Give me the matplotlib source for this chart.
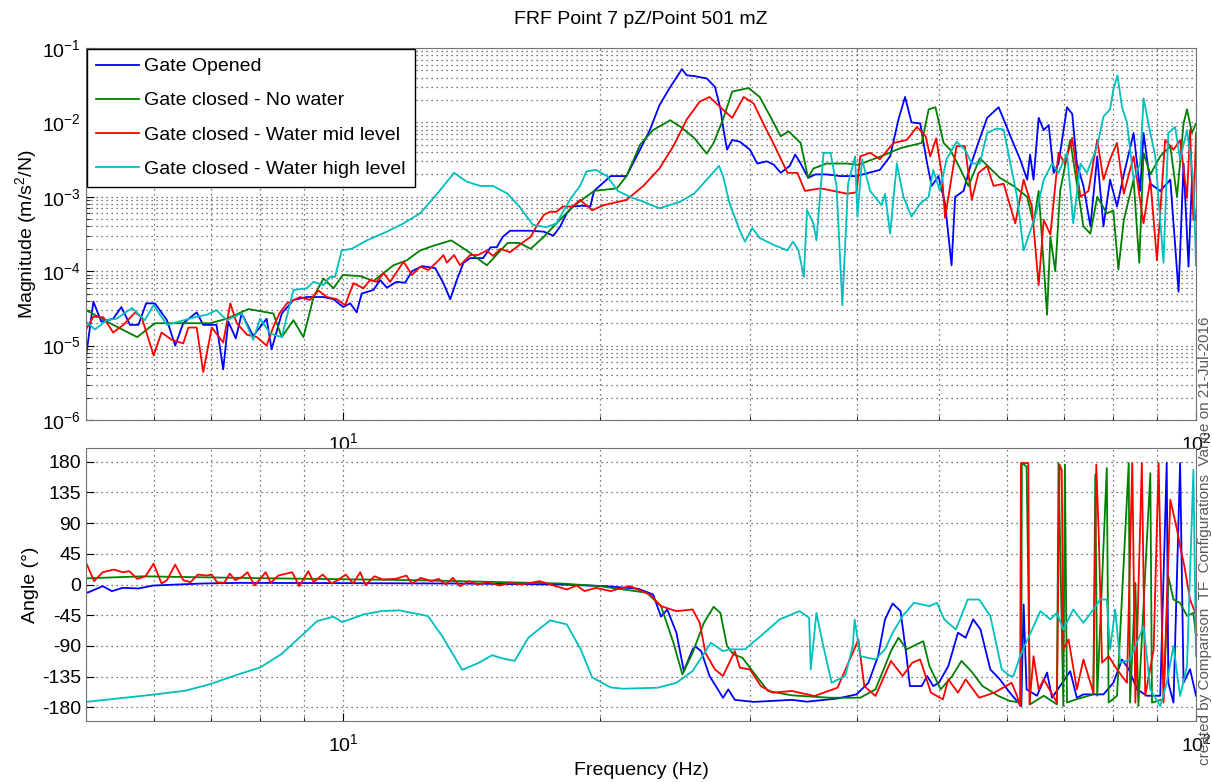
import matplotlib
matplotlib.use("Agg")
from matplotlib import pyplot as plt
import numpy as np

plt.rcParams['font.family'] = ['Liberation Sans', 'DejaVu Sans']
plt.rcParams['mathtext.default'] = 'regular'
plt.rcParams['axes.unicode_minus'] = False

# (frequency Hz, magnitude m/s^2/N)
blue_mag = [(5.00, 7.1e-6), (5.10, 3.9e-5), (5.21, 2.1e-5), (5.38, 2.3e-5), (5.50, 3.3e-5), (5.63, 1.9e-5),
            (5.76, 1.9e-5), (5.88, 3.7e-5), (6.02, 3.7e-5), (6.22, 2.2e-5), (6.36, 1.0e-5), (6.50, 2.0e-5),
            (6.74, 2.8e-5), (6.86, 1.9e-5), (7.11, 1.9e-5), (7.24, 4.8e-6), (7.34, 2.1e-5), (7.49, 1.25e-5),
            (7.61, 2.7e-5), (7.85, 1.35e-5), (8.14, 2.3e-5), (8.25, 8.9e-6), (8.48, 2.7e-5), (8.75, 4.1e-5),
            (9.07, 4.5e-5), (9.49, 4.5e-5), (9.75, 4.2e-5), (10.01, 3.3e-5), (10.2, 3.7e-5), (10.38, 2.8e-5),
            (10.52, 5.0e-5), (10.86, 5.6e-5), (11.06, 7.6e-5), (11.26, 6.0e-5), (11.56, 7.2e-5), (11.83, 7.0e-5),
            (12.05, 1.0e-4), (12.38, 1.17e-4), (12.83, 1.1e-4), (13.12, 6.9e-5), (13.36, 4.2e-5), (13.6, 7.6e-5),
            (13.85, 1.3e-4), (14.1, 1.5e-4), (14.6, 1.5e-4), (14.9, 2.1e-4), (15.15, 2.1e-4), (15.4, 2.9e-4),
            (15.7, 3.5e-4), (16.1, 3.5e-4), (16.6, 3.5e-4), (17.2, 3.4e-4), (17.65, 3.0e-4), (17.98, 4.0e-4),
            (18.3, 6.0e-4), (18.6, 7.4e-4), (19.1, 7.6e-4), (19.5, 7.4e-4), (19.7, 1.2e-3), (20.6, 1.9e-3),
            (21.5, 1.9e-3), (22.3, 4.3e-3), (22.9, 7.9e-3), (23.5, 1.7e-2), (24.2, 3.0e-2), (24.97, 5.2e-2),
            (25.3, 4.3e-2), (25.8, 4.2e-2), (26.7, 3.9e-2), (27.3, 3.0e-2), (27.7, 1.55e-2), (27.9, 8.8e-3),
            (28.2, 4.3e-3), (28.6, 5.8e-3), (29.2, 5.5e-3), (30.0, 4.3e-3), (30.6, 2.8e-3), (31.4, 3.0e-3),
            (32.0, 2.7e-3), (32.6, 2.1e-3), (33.4, 2.6e-3), (33.9, 3.7e-3), (34.4, 2.8e-3), (35.1, 1.8e-3),
            (35.8, 2.0e-3), (36.9, 2.0e-3), (38.3, 1.9e-3), (40.0, 1.9e-3), (42.6, 2.3e-3), (43.8, 3.5e-3),
            (44.8, 1.1e-2), (45.6, 2.2e-2), (46.4, 1.0e-2), (47.5, 9.7e-3), (48.4, 2.8e-3), (49.0, 1.4e-3),
            (49.9, 1.9e-3), (50.8, 8.1e-4), (51.7, 1.2e-4), (52.2, 1.0e-3), (53.4, 1.2e-3), (54.4, 2.6e-3),
            (55.4, 4.8e-3), (56.9, 1.15e-2), (58.7, 1.6e-2), (59.5, 1.1e-2), (60.6, 6.5e-3), (62.2, 3.2e-3),
            (63.4, 1.7e-3), (63.9, 3.7e-3), (64.5, 1.7e-3), (65.4, 1.15e-2), (66.3, 7.9e-3), (67.2, 9.2e-3),
            (68.1, 2.1e-3), (69.0, 2.8e-3), (70.6, 1.6e-2), (71.6, 1.3e-2), (72.5, 2.8e-3), (73.8, 1.4e-3),
            (75.2, 4.0e-4), (76.6, 3.5e-3), (77.9, 4.0e-4), (79.3, 1.7e-3), (80.8, 7.4e-4), (82.3, 2.0e-3),
            (84.5, 7.2e-3), (86.0, 1.2e-3), (86.8, 7.2e-3), (88.4, 1.5e-3), (90.8, 1.2e-3), (93.3, 1.7e-3),
            (95.4, 5.3e-5), (96.7, 2.8e-3), (98.0, 1.15e-4), (98.9, 1.7e-3), (99.8, 4.9e-4)]

green_mag = [(5.00, 3.0e-5), (5.38, 1.9e-5), (5.74, 1.3e-5), (6.02, 2.0e-5), (6.27, 2.0e-5), (6.99, 2.0e-5),
             (7.31, 2.3e-5), (7.75, 3.1e-5), (8.29, 2.7e-5), (8.48, 1.3e-5), (8.75, 2.2e-5), (8.99, 1.3e-5),
             (9.24, 4.5e-5), (9.49, 8.0e-5), (9.75, 5.9e-5), (10.0, 8.9e-5), (10.48, 8.6e-5), (10.86, 7.4e-5),
             (11.46, 1.2e-4), (11.88, 1.4e-4), (12.32, 1.9e-4), (12.77, 2.2e-4), (13.4, 2.6e-4), (13.97, 1.9e-4),
             (14.75, 1.2e-4), (15.6, 2.4e-4), (16.1, 2.4e-4), (16.6, 2.0e-4), (17.2, 2.9e-4), (17.8, 4.4e-4),
             (18.6, 7.4e-4), (19.7, 1.2e-3), (20.95, 1.3e-3), (21.5, 1.9e-3), (22.3, 5.0e-3), (23.1, 7.9e-3),
             (24.2, 1.07e-2), (24.85, 8.8e-3), (25.8, 6.2e-3), (26.7, 3.8e-3), (27.2, 5.3e-3), (27.9, 1.1e-2),
             (28.6, 2.6e-2), (29.9, 2.9e-2), (30.8, 2.2e-2), (31.7, 1.2e-2), (32.6, 6.5e-3), (33.3, 7.6e-3),
             (34.4, 5.3e-3), (35.1, 1.8e-3), (35.6, 2.4e-3), (36.9, 2.8e-3), (39.0, 2.8e-3), (40.2, 2.7e-3),
             (43.0, 3.6e-3), (45.0, 4.5e-3), (47.7, 5.3e-3), (48.6, 1.5e-2), (49.5, 1.6e-2), (50.6, 5.3e-3),
             (51.5, 4.3e-3), (52.9, 2.4e-3), (54.1, 1.4e-3), (55.8, 3.3e-3), (57.4, 2.4e-3), (58.9, 1.8e-3),
             (61.1, 1.4e-3), (63.4, 1.0e-3), (64.5, 4.4e-4), (65.4, 1.2e-3), (66.9, 2.6e-5), (67.5, 2.9e-4),
             (68.4, 1.0e-4), (69.3, 1.2e-3), (71.2, 5.8e-3), (72.5, 1.5e-3), (73.8, 4.0e-4), (75.2, 3.2e-4),
             (76.6, 1.0e-3), (78.6, 6.0e-4), (80.0, 6.5e-4), (81.1, 1.05e-4), (82.3, 4.9e-4), (84.5, 1.7e-3),
             (85.8, 1.3e-4), (86.8, 3.9e-3), (88.4, 2.0e-3), (90.8, 3.5e-3), (93.3, 4.8e-3), (95.0, 1.0e-3),
             (96.7, 9.7e-3), (97.6, 1.5e-2), (98.9, 7.2e-3), (100.0, 9.7e-3)]

red_mag = [(5.00, 1.65e-5), (5.10, 2.45e-5), (5.24, 2.4e-5), (5.38, 1.5e-5), (5.53, 1.9e-5), (5.71, 2.8e-5),
           (5.81, 2.4e-5), (6.00, 7.4e-6), (6.13, 1.5e-5), (6.30, 1.2e-5), (6.50, 1.07e-5), (6.59, 1.75e-5),
           (6.74, 1.75e-5), (6.86, 4.4e-6), (7.02, 1.75e-5), (7.24, 1.1e-5), (7.38, 3.7e-5), (7.51, 2.0e-5),
           (7.72, 1.4e-5), (7.93, 1.3e-5), (8.14, 1.0e-5), (8.29, 1.8e-5), (8.44, 2.8e-5), (8.60, 3.7e-5),
           (8.91, 4.5e-5), (9.15, 4.1e-5), (9.36, 5.5e-5), (9.58, 4.5e-5), (9.84, 4.2e-5), (10.06, 3.5e-5),
           (10.29, 6.9e-5), (10.57, 5.9e-5), (10.76, 7.6e-5), (10.96, 7.2e-5), (11.16, 9.5e-5), (11.36, 7.2e-5),
           (11.78, 1.34e-4), (12.05, 8.9e-5), (12.32, 1.15e-4), (12.6, 1.04e-4), (12.9, 1.34e-4), (13.12, 1.65e-4),
           (13.24, 1.3e-4), (13.5, 1.65e-4), (13.72, 1.2e-4), (14.1, 1.65e-4), (14.4, 1.65e-4), (14.75, 1.9e-4),
           (15.0, 1.6e-4), (15.3, 2.0e-4), (15.7, 1.8e-4), (16.1, 2.25e-4), (16.6, 2.9e-4), (16.9, 4.2e-4),
           (17.2, 5.7e-4), (17.5, 6.3e-4), (17.8, 6.3e-4), (18.1, 7.4e-4), (18.6, 7.4e-4), (18.97, 9.1e-4),
           (19.6, 6.6e-4), (20.2, 7.7e-4), (21.5, 9.1e-4), (22.5, 1.4e-3), (23.5, 2.4e-3), (24.4, 4.8e-3),
           (25.3, 1.1e-2), (26.2, 1.9e-2), (26.9, 2.2e-2), (27.7, 1.6e-2), (28.6, 1.15e-2), (29.5, 2.2e-2),
           (30.3, 1.8e-2), (31.1, 9.7e-3), (32.0, 5.1e-3), (33.2, 2.1e-3), (34.1, 2.1e-3), (34.8, 1.2e-3),
           (36.3, 1.3e-3), (37.6, 1.2e-3), (39.0, 1.1e-3), (40.0, 1.15e-3), (40.4, 3.5e-3), (41.5, 3.9e-3),
           (42.6, 3.2e-3), (44.2, 5.3e-3), (45.8, 5.8e-3), (47.1, 8.7e-3), (48.2, 6.5e-3), (48.8, 3.5e-3),
           (49.6, 6.1e-3), (50.4, 1.9e-3), (50.8, 5.2e-4), (51.5, 1.4e-3), (52.4, 4.8e-3), (53.6, 4.8e-3),
           (54.6, 9.1e-4), (55.6, 2.1e-3), (56.9, 2.6e-3), (57.9, 1.4e-3), (59.5, 1.5e-3), (61.4, 4.4e-4),
           (62.8, 1.7e-3), (64.2, 7.4e-4), (65.4, 6.5e-5), (66.3, 4.9e-4), (67.5, 3.1e-4), (69.0, 3.9e-3),
           (70.2, 2.8e-3), (71.6, 6.2e-3), (73.2, 1.0e-3), (74.8, 1.2e-3), (76.6, 5.8e-3), (77.9, 1.7e-3),
           (79.3, 3.2e-3), (80.8, 5.3e-3), (82.3, 1.1e-3), (84.5, 3.5e-3), (86.8, 4.4e-4), (88.4, 1.7e-3),
           (90.0, 1.4e-4), (92.0, 5.8e-3), (94.1, 4.3e-3), (95.8, 5.8e-3), (97.6, 9.6e-4), (98.4, 7.9e-3),
           (99.3, 4.9e-4), (100.0, 7.2e-3)]

cyan_mag = [(5.00, 2.1e-5), (5.12, 1.65e-5), (5.29, 2.2e-5), (5.43, 2.3e-5), (5.66, 3.2e-5), (5.86, 2.2e-5),
            (6.00, 3.5e-5), (6.22, 1.9e-5), (6.42, 2.1e-5), (6.74, 2.45e-5), (6.93, 2.6e-5), (7.11, 3.0e-5),
            (7.31, 2.2e-5), (7.61, 2.7e-5), (7.85, 1.2e-5), (8.0, 2.3e-5), (8.22, 1.45e-5), (8.48, 1.3e-5),
            (8.75, 5.6e-5), (9.07, 5.9e-5), (9.24, 7.2e-5), (9.49, 6.5e-5), (9.66, 8.4e-5), (9.79, 8.4e-5),
            (9.97, 1.9e-4), (10.24, 2.0e-4), (10.67, 2.6e-4), (11.26, 3.4e-4), (11.78, 4.4e-4), (12.32, 6.0e-4),
            (12.9, 1.1e-3), (13.5, 2.1e-3), (13.97, 1.6e-3), (14.49, 1.4e-3), (15.0, 1.4e-3), (15.6, 1.1e-3),
            (16.1, 7.4e-4), (16.7, 4.2e-4), (17.3, 3.9e-4), (17.8, 4.4e-4), (18.5, 9.6e-4), (18.97, 1.4e-3),
            (19.3, 2.2e-3), (19.8, 2.3e-3), (20.4, 1.9e-3), (21.0, 1.2e-3), (21.7, 1.0e-3), (22.5, 8.6e-4),
            (23.5, 7.0e-4), (24.85, 8.6e-4), (25.8, 1.1e-3), (26.7, 1.7e-3), (27.6, 2.6e-3), (27.9, 1.9e-3),
            (28.4, 8.1e-4), (29.2, 3.5e-4), (29.6, 2.5e-4), (30.2, 3.8e-4), (30.8, 2.8e-4), (32.0, 2.25e-4),
            (33.2, 1.9e-4), (33.7, 2.5e-4), (34.2, 1.9e-4), (34.7, 8.4e-5), (35.0, 6.6e-4), (35.6, 4.4e-4),
            (35.9, 2.6e-4), (36.6, 3.9e-3), (37.3, 3.9e-3), (37.9, 1.4e-3), (38.5, 3.5e-5), (39.1, 1.5e-3),
            (39.85, 3.5e-3), (40.1, 5.4e-4), (40.6, 3.2e-3), (41.5, 1.2e-3), (42.8, 7.7e-4), (43.2, 1.1e-3),
            (43.8, 3.2e-4), (44.6, 2.8e-3), (45.4, 1.0e-3), (46.4, 5.4e-4), (47.5, 8.1e-4), (48.6, 1.0e-3),
            (49.2, 2.3e-3), (50.1, 1.2e-3), (51.0, 3.2e-3), (52.4, 5.5e-3), (53.6, 4.3e-3), (54.6, 2.8e-3),
            (55.8, 2.8e-3), (56.9, 7.2e-3), (58.4, 8.3e-3), (59.5, 8.0e-3), (60.6, 2.8e-3), (61.7, 1.0e-3),
            (62.8, 1.9e-4), (63.9, 3.4e-4), (65.1, 6.6e-4), (66.3, 1.7e-3), (67.8, 2.8e-3), (69.0, 2.1e-3),
            (70.6, 3.9e-3), (71.8, 4.4e-4), (73.2, 2.8e-3), (74.5, 2.1e-3), (76.6, 4.8e-3), (77.9, 1.2e-2),
            (79.3, 1.5e-2), (80.0, 2.75e-2), (80.9, 4.3e-2), (81.9, 1.6e-2), (83.0, 1.0e-2), (84.5, 1.7e-3),
            (86.0, 2.8e-3), (86.8, 2.1e-2), (88.4, 7.2e-3), (89.6, 3.5e-3), (91.6, 1.3e-4), (92.8, 7.2e-3),
            (94.5, 8.7e-3), (95.8, 3.2e-3), (97.6, 7.9e-3), (99.3, 1.7e-3), (100.0, 1.2e-4)]

# (frequency Hz, phase deg)
blue_ph = [(5.0, -11), (5.02, -12), (5.23, -2.4), (5.36, -9.7), (5.52, -4.9), (5.76, -5.8), (5.99, -1.5),
           (6.85, 1.5), (7.55, 2.4), (10.0, 2.0), (13.4, 1.5), (18.0, 0), (20.35, -2.4), (22.2, -6.3),
           (23.1, -14.6), (23.6, -47), (24.0, -36.6), (24.6, -70.7), (25.1, -126.8), (25.7, -95), (25.9, -91),
           (26.3, -97.6), (26.9, -134), (27.9, -166), (28.3, -153.7), (28.8, -169), (30.3, -172), (33.6, -169),
           (35.0, -171.7), (38.0, -167), (40.0, -161), (41.3, -144), (42.4, -105), (43.2, -51), (44.1, -27.8),
           (45.05, -39), (45.8, -107), (46.2, -148.8), (47.7, -148.8), (48.4, -134), (49.2, -148.8),
           (49.96, -144), (51.25, -119.5), (52.6, -70.7), (53.7, -78), (54.8, -51), (55.9, -65.9),
           (57.4, -124.4), (58.9, -139), (60.5, -158.5), (62.4, -178), (62.8, -29.3), (63.3, -153.7),
           (65.1, -163), (66.9, -129), (67.8, -166), (71.2, -127), (72.5, -166), (73.8, -161), (77.9, -161),
           (80.0, -144), (81.9, -110), (83.4, -124), (85.3, -153.7), (87.6, -163), (90.8, -163), (92.4, 178),
           (92.8, -144), (94.1, -173), (95.8, 178), (96.7, -144), (98.4, -124), (100.0, -163)]

green_ph = [(5.0, 9), (5.82, 12), (7.55, 9.7), (12.2, 6.3), (18.0, 1.5), (20.0, -2.4), (22.7, -12),
            (23.6, -31.7), (24.4, -85), (25.0, -131.7), (25.7, -100), (26.5, -56), (27.2, -32.7),
            (27.7, -41.5), (28.2, -90), (28.7, -102.4), (29.4, -107.3), (30.3, -129), (31.5, -156),
            (33.6, -162.4), (37.2, -165.9), (40.4, -165.9), (42.1, -153.7), (43.9, -97.6), (44.8, -78),
            (45.8, -95), (47.9, -83), (48.7, -119.5), (50.2, -153.7), (51.8, -134), (53.1, -112),
            (54.5, -126.8), (56.2, -148.8), (58.6, -163), (60.5, -170.7), (62.4, -173), (62.5, 178),
            (63.3, 173), (63.9, -175.6), (66.3, -163), (68.7, -175.6), (69.0, 178), (69.9, -178),
            (70.2, 175.6), (70.6, -173), (72.5, -168), (75.8, -161), (76.2, 161), (76.6, -163),
            (78.6, 170.7), (79.0, -173), (80.8, -163), (83.4, 178), (83.7, -173), (84.9, 2.4), (85.6, -178),
            (88.4, 163), (88.8, -173), (91.6, -168), (92.8, 12), (94.1, -22), (95.8, -27), (97.6, -46),
            (99.3, -41.5), (100.0, -75)]

red_ph = [(5.0, 32), (5.11, 4.9), (5.23, 18), (5.39, 21.9), (5.52, 18), (5.62, 19.5), (5.74, 8.3),
          (5.87, 12), (6.00, 30.6), (6.13, 1.5), (6.22, 6.3), (6.36, 29.2), (6.50, 6.3), (6.63, 3.4),
          (6.76, 14.6), (6.92, 13.1), (7.02, 14.6), (7.12, 3.4), (7.26, 2.4), (7.37, 16), (7.48, 6.3),
          (7.62, 11.2), (7.73, 18), (7.88, -1.5), (8.12, 18), (8.23, 2.4), (8.40, 13.1), (8.72, 18),
          (8.89, -2.4), (9.11, 19.5), (9.24, 3.4), (9.47, 14.6), (9.70, 1.5), (9.89, 7.3), (10.08, 14.6),
          (10.28, 1.5), (10.48, 18), (10.63, -1), (10.89, 12), (11.15, 7.3), (11.53, 8.3), (11.87, 13.1),
          (12.05, 1.5), (12.34, 9.7), (12.7, 4.9), (12.95, 8.3), (13.2, 0), (13.46, 9.7), (13.72, -2.4),
          (14.05, 4.9), (14.4, 0), (14.8, 3.4), (15.26, -1.5), (15.7, 2.4), (16.2, 0), (17.0, 4.9),
          (17.5, 0), (18.3, -7.3), (18.8, -1.5), (19.2, -9.7), (19.8, -4.9), (20.6, -9.7), (20.9, -7.3),
          (21.7, -2.4), (22.9, -14.6), (23.6, -31.7), (24.6, -39), (25.7, -36.6), (26.2, -56), (26.6, -100),
          (27.3, -124.4), (27.9, -134), (28.8, -97.6), (29.2, -122), (30.0, -124.4), (30.9, -148.8),
          (31.9, -158.5), (33.6, -156), (35.7, -163.4), (38.0, -151.2), (39.6, -100), (40.2, -80.5),
          (40.85, -148.8), (42.1, -163.4), (43.9, -112), (45.3, -134), (46.5, -114.6), (47.5, -109.8),
          (48.9, -158.5), (50.5, -168.3), (51.25, -139), (52.6, -158.5), (53.7, -139), (55.7, -165.9),
          (58.0, -158.5), (60.8, -144), (61.7, -163.4), (62.2, -178), (62.35, 178), (63.6, 178),
          (63.8, -175.6), (64.5, -105), (65.4, -153.7), (66.3, -139), (68.7, -173), (69.2, 175.6),
          (69.6, 168), (69.9, -95), (70.9, -80.5), (72.5, -153.7), (73.8, -109.8), (75.8, -158.5),
          (76.4, 175.6), (76.9, 75.6), (77.6, -114.6), (79.0, -105), (80.8, -124.4), (83.0, -144),
          (84.2, 178), (84.9, -173), (86.4, 178), (87.2, -163), (89.2, -95), (90.4, 178), (91.6, -173),
          (93.3, 124.4), (95.0, 80.5), (95.8, 56), (96.9, 27), (98.4, -22), (99.8, -41.5)]

cyan_ph = [(5.0, -172), (5.93, -162), (6.53, -155.7), (6.99, -146), (7.55, -131.4), (8.0, -121.6),
           (8.47, -102), (8.98, -73), (9.33, -53.5), (9.75, -47.2), (9.98, -55), (10.58, -43.8),
           (11.1, -38.9), (11.65, -37.9), (12.58, -46.2), (13.07, -75.4), (13.8, -125), (14.4, -115.3),
           (14.96, -103.6), (15.4, -108.5), (15.9, -111.9), (16.5, -77.8), (17.5, -52.5), (18.3, -58.4),
           (19.0, -94.9), (19.6, -136.2), (20.6, -150.8), (21.3, -152.7), (23.4, -151.2), (24.6, -144),
           (25.7, -126.8), (27.0, -85.4), (27.9, -97.6), (28.4, -95), (29.6, -95), (31.2, -70.7),
           (32.5, -51.2), (34.3, -39), (35.2, -48.8), (35.35, -124.4), (35.9, -41.5), (36.5, -85.4),
           (37.4, -143.9), (38.8, -134), (39.6, -90.2), (39.8, -51.2), (40.4, -104.9), (42.1, -109.8),
           (43.2, -95), (44.1, -70.7), (45.3, -46.3), (46.7, -26.8), (48.7, -31.7), (49.7, -26.8),
           (50.7, -51.2), (52.3, -65.9), (54.0, -22), (55.7, -22), (57.4, -46.3), (59.2, -124.4),
           (60.5, -134), (61.1, -134), (62.2, -105), (65.7, -39), (67.5, -51.2), (68.7, -41.5),
           (69.9, -65.9), (71.8, -36.6), (73.8, -56), (75.8, -36.6), (77.2, -22), (78.6, -22), (79.3, -95),
           (80.4, -36.6), (81.5, -114.6), (83.7, -109.8), (86.8, -61), (88.4, -153.7), (90.8, -178),
           (92.4, -144), (94.1, -90.2), (95.8, -163.4), (97.6, -119.5), (99.3, 168), (100.0, -105)]

labels = ['Gate Opened', 'Gate closed - No water', 'Gate closed - Water mid level',
          'Gate closed - Water high level']
colors = ['#0000ff', '#008000', '#ff0000', '#00bfbf']

fig = plt.figure(figsize=(12.12, 7.82), dpi=100)
ax1 = fig.add_axes([0.071, 0.4629, 0.9158, 0.4757])
ax2 = fig.add_axes([0.071, 0.078, 0.9158, 0.3491])

for data, c, lab in zip([blue_mag, green_mag, red_mag, cyan_mag], colors, labels):
    f, v = zip(*data)
    ax1.plot(f, v, color=c, lw=1.3, label=lab)
for data, c in zip([blue_ph, green_ph, red_ph, cyan_ph], colors):
    f, v = zip(*data)
    ax2.plot(f, v, color=c, lw=1.3)

grid_kw = dict(ls=(0, (1, 3)), color='0.3', lw=0.9)
for ax in (ax1, ax2):
    ax.set_xscale('log')
    ax.set_xlim(5, 100)
    ax.tick_params(which='both', direction='in', labelsize=14, top=False, right=False)
    ax.tick_params(which='major', length=6)
    ax.tick_params(which='minor', length=3)
    ax.tick_params(axis='x', which='major', pad=9)
    ax.grid(True, which='major', **grid_kw)
    ax.grid(True, which='minor', axis='x', **grid_kw)
    for s in ax.spines.values():
        s.set_color('0.45')

ax1.set_yscale('log')
ax1.set_ylim(1e-6, 1e-1)
ax1.grid(True, which='minor', axis='y', **grid_kw)
ax1.set_ylabel('Magnitude (m/s$^2$/N)', fontsize=14, labelpad=2)
ax1.set_title('FRF Point 7 pZ/Point 501 mZ', fontsize=14, pad=17)
ax1.legend(loc='upper left', fontsize=14, fancybox=False, edgecolor='black', framealpha=1,
           borderaxespad=0.05, handlelength=2.2, handletextpad=0.3, labelspacing=0.85, borderpad=0.45)

ax2.set_ylim(-200, 200)
ax2.set_yticks(np.arange(-180, 181, 45))
ax2.set_ylabel('Angle (°)', fontsize=14, labelpad=2)
ax2.set_xlabel('Frequency (Hz)', fontsize=14, labelpad=5)

fig.text(0.994, 0.022, 'created by Comparison  TF  Configurations  Vanne on 21-Jul-2016',
         rotation=90, ha='center', va='bottom', fontsize=11, color='0.35')

fig.savefig('out.png', dpi=100)
